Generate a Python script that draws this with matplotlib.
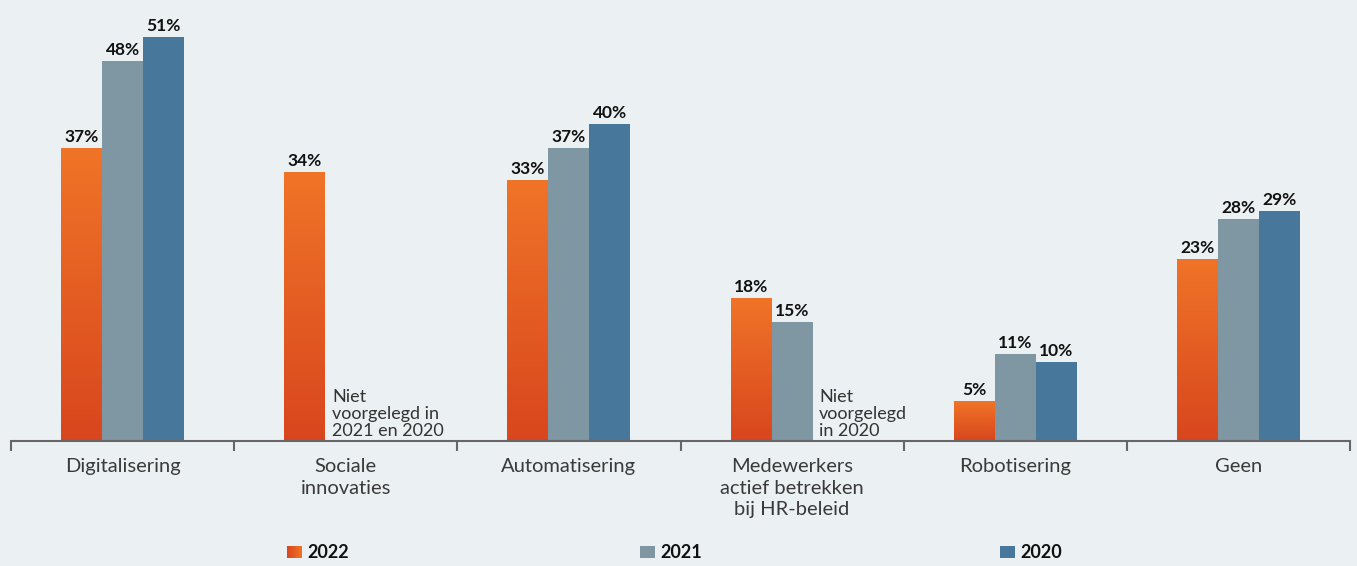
import numpy as np
import matplotlib.pyplot as plt
from matplotlib.colors import LinearSegmentedColormap
from matplotlib.patches import Rectangle

categories = ["Digitalisering", "Sociale\ninnovaties", "Automatisering",
              "Medewerkers\nactief betrekken\nbij HR-beleid", "Robotisering", "Geen"]
years = ["2022", "2021", "2020"]
v2022 = [37, 34, 33, 18, 5, 23]
v2021 = [48, None, 37, 15, 11, 28]
v2020 = [51, None, 40, None, 10, 29]
notes = {1: "Niet\nvoorgelegd in\n2021 en 2020", 3: "Niet\nvoorgelegd\nin 2020"}

bg = "#ebf0f3"
gray = "#7f96a3"
blue = "#48779c"
orange_cmap = LinearSegmentedColormap.from_list("og", ["#d8461d", "#f07428"])

fig = plt.figure(figsize=(13.57, 5.66), dpi=100, facecolor=bg)
ax = fig.add_axes([11 / 1357, 1 - 441 / 566, 1339 / 1357, 441 / 566])
ax.set_facecolor(bg)
ax.set_xlim(0, 6)
ax.set_ylim(0, 55.7)

bw = 41 / 223.2
x = np.arange(len(categories)) + 0.5
grad = np.linspace(0, 1, 256).reshape(-1, 1)

for i, c in enumerate(x):
    for k, (vals, col) in enumerate([(v2022, None), (v2021, gray), (v2020, blue)]):
        v = vals[i]
        if v is None:
            continue
        left = c + (k - 1.5) * bw
        if col is None:
            bar = ax.bar(left, v, width=bw, align="edge", color="none", lw=0)[0]
            im = ax.imshow(grad, cmap=orange_cmap, aspect="auto", origin="lower",
                           extent=(left, left + bw, 0, v), zorder=2)
            im.set_clip_path(bar)
        else:
            ax.bar(left, v, width=bw, align="edge", color=col, lw=0, zorder=2)
        ax.text(left + bw / 2, v + 0.4, f"{v}%", ha="center", va="bottom",
                fontsize=12.5, fontweight="bold", family="Lato", color="#111111")
    if i in notes:
        nv = sum(1 for vals in (v2022, v2021, v2020) if vals[i] is not None)
        ax.text(c + (nv - 1.5) * bw + 0.03, 0.3, notes[i], ha="left", va="bottom",
                fontsize=13, family="Lato", color="#333333", linespacing=1.05)

ax.set_aspect("auto")
for s in ["top", "right", "left"]:
    ax.spines[s].set_visible(False)
ax.spines["bottom"].set_color("#666666")
ax.spines["bottom"].set_linewidth(1.5)
ax.set_yticks([])
ax.set_xticks(np.arange(0, 7))
ax.set_xticklabels([])
ax.tick_params(axis="x", length=7, width=1.5, color="#666666", direction="out")
for i, c in enumerate(x):
    ax.text(c, -2.2, categories[i], ha="center", va="top", fontsize=14.5,
            family="Lato", color="#3a3a3a", linespacing=1.3)

# legend
leg_x = [287, 640, 1000]
leg_cols = [None, gray, blue]
for lx, yr, col in zip(leg_x, years, leg_cols):
    y0 = 1 - 558 / 566
    w, h = 15 / 1357, 12 / 566
    if col is None:
        lax = fig.add_axes([lx / 1357, y0, w, h])
        lax.imshow(np.linspace(0, 1, 64).reshape(1, -1), cmap=orange_cmap, aspect="auto")
        lax.axis("off")
    else:
        fig.patches.append(Rectangle((lx / 1357, y0), w, h, transform=fig.transFigure,
                                     color=col, lw=0))
    fig.text((lx + 20) / 1357, y0 + h / 2, yr, ha="left", va="center", fontsize=13,
             fontweight="bold", family="Lato", color="#111111")

fig.savefig("out.png", dpi=100, facecolor=bg)
